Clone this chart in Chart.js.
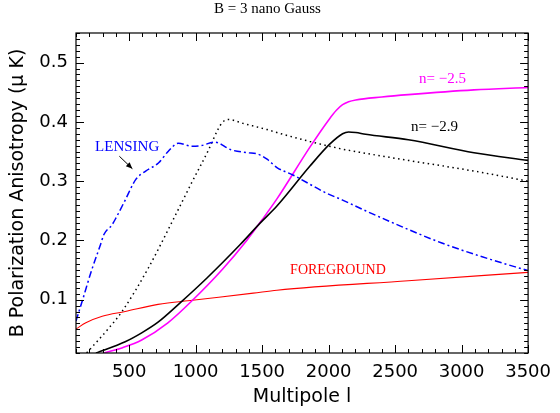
<!DOCTYPE html>
<html>
<head>
<meta charset="utf-8">
<script src="https://cdn.jsdelivr.net/npm/chart.js@4.4.1/dist/chart.umd.min.js"></script>
<style>
  html, body { margin: 0; padding: 0; background: #fff; }
  canvas { display: block; }
</style>
</head>
<body>
<canvas id="chart-bmode" width="560" height="413"></canvas>
<script>
// multipole values (l) and amplitudes (muK)
const L_LENS = [100, 150, 218, 280, 310, 370, 401, 470, 550, 624, 722, 796, 870, 969, 1043, 1142, 1265, 1389, 1463, 1537, 1611, 1735, 1981, 2105, 2278, 2500, 2846, 3216, 3500];
const Y_LENS = [0.064, 0.1, 0.15, 0.19, 0.21, 0.226, 0.238, 0.268, 0.303, 0.317, 0.331, 0.351, 0.364, 0.359, 0.36, 0.366, 0.353, 0.348, 0.346, 0.337, 0.323, 0.31, 0.28, 0.268, 0.25, 0.228, 0.196, 0.168, 0.149];

const L_DOT = [180, 347, 446, 643, 833, 969, 1093, 1167, 1200, 1245, 1364, 1537, 1611, 1858, 2105, 2278, 2599, 3093, 3500];
const Y_DOT = [0.01, 0.052, 0.08, 0.153, 0.236, 0.297, 0.351, 0.387, 0.399, 0.404, 0.397, 0.387, 0.382, 0.367, 0.354, 0.347, 0.335, 0.317, 0.30];

const L_N29 = [250, 470, 594, 717, 885, 1087, 1335, 1488, 1611, 1858, 2006, 2105, 2150, 2204, 2278, 2599, 3093, 3500];
const Y_N29 = [0.01, 0.029, 0.044, 0.062, 0.095, 0.137, 0.193, 0.23, 0.258, 0.325, 0.362, 0.38, 0.383, 0.382, 0.379, 0.37, 0.348, 0.335];

const L_N25 = [310, 450, 594, 791, 976, 1200, 1384, 1500, 1611, 1858, 2006, 2060, 2105, 2150, 2204, 2400, 2599, 3093, 3500];
const Y_N25 = [0.01, 0.019, 0.032, 0.061, 0.099, 0.151, 0.2, 0.235, 0.27, 0.357, 0.405, 0.42, 0.429, 0.434, 0.437, 0.442, 0.446, 0.454, 0.458];

const L_FG = [100, 174, 297, 470, 717, 976, 1433, 1611, 2599, 3500];
const Y_FG = [0.0505, 0.061, 0.072, 0.08, 0.092, 0.099, 0.111, 0.116, 0.132, 0.146];

const X_TICKS = [500, 1000, 1500, 2000, 2500, 3000, 3500];
const Y_TICKS = [0.1, 0.2, 0.3, 0.4, 0.5];

const AXIS_FONT = "'DejaVu Sans', sans-serif";
const SERIF_FONT = "'Liberation Serif', 'Times New Roman', serif";

function zip(xs, ys) {
  return xs.map((x, i) => ({ x, y: ys[i] }));
}

// text annotations in data coordinates
const LABELS = [
  { text: 'n= \u22122.5', x: 2856, y: 0.472, color: '#ff00ff', size: 15 },
  { text: 'n= \u22122.9', x: 2796, y: 0.391, color: '#000000', size: 15 },
  { text: 'LENSING', x: 485, y: 0.358, color: '#0000ff', size: 15 },
  { text: 'FOREGROUND', x: 2070, y: 0.15, color: '#ff0000', size: 14 }
];
const ARROW = { from: [426, 0.342], to: [524, 0.321] };

// box frame with inward major/minor ticks on all four sides
const framePlugin = {
  id: 'frame',
  afterDatasetsDraw(chart) {
    const { ctx, chartArea: a, scales: { x, y } } = chart;
    ctx.save();
    ctx.strokeStyle = '#000';
    ctx.lineWidth = 1.2;
    ctx.strokeRect(a.left, a.top, a.right - a.left, a.bottom - a.top);
    ctx.lineWidth = 1;
    ctx.beginPath();
    for (let v = 100; v <= 3500; v += 100) {
      const px = Math.round(x.getPixelForValue(v)) + 0.5;
      const len = v % 500 === 0 ? 8 : 4;
      ctx.moveTo(px, a.bottom); ctx.lineTo(px, a.bottom - len);
      ctx.moveTo(px, a.top); ctx.lineTo(px, a.top + len);
    }
    for (let i = 1; i <= 55; i++) {
      const v = i / 100;
      const py = Math.round(y.getPixelForValue(v)) + 0.5;
      const len = i % 10 === 0 ? 8 : 4;
      ctx.moveTo(a.left, py); ctx.lineTo(a.left + len, py);
      ctx.moveTo(a.right, py); ctx.lineTo(a.right - len, py);
    }
    ctx.stroke();

    // labels
    ctx.textAlign = 'center';
    ctx.textBaseline = 'middle';
    LABELS.forEach(l => {
      ctx.font = l.size + 'px ' + SERIF_FONT;
      ctx.fillStyle = l.color;
      ctx.fillText(l.text, x.getPixelForValue(l.x), y.getPixelForValue(l.y));
    });

    // arrow pointing at the lensing curve
    const x0 = x.getPixelForValue(ARROW.from[0]), y0 = y.getPixelForValue(ARROW.from[1]);
    const x1 = x.getPixelForValue(ARROW.to[0]), y1 = y.getPixelForValue(ARROW.to[1]);
    const ang = Math.atan2(y1 - y0, x1 - x0);
    ctx.strokeStyle = '#000';
    ctx.fillStyle = '#000';
    ctx.beginPath();
    ctx.moveTo(x0, y0); ctx.lineTo(x1, y1);
    ctx.stroke();
    ctx.beginPath();
    ctx.moveTo(x1, y1);
    ctx.lineTo(x1 - 7 * Math.cos(ang - 0.4), y1 - 7 * Math.sin(ang - 0.4));
    ctx.lineTo(x1 - 7 * Math.cos(ang + 0.4), y1 - 7 * Math.sin(ang + 0.4));
    ctx.closePath();
    ctx.fill();
    ctx.restore();
  }
};

const ctx = document.getElementById('chart-bmode').getContext('2d');
new Chart(ctx, {
  type: 'line',
  data: {
    datasets: [
      {
        label: 'Lensing', data: zip(L_LENS, Y_LENS),
        borderColor: '#0000ff', borderWidth: 1.5, borderDash: [7, 3, 2, 3]
      },
      {
        label: 'Dotted', data: zip(L_DOT, Y_DOT),
        borderColor: '#000000', borderWidth: 1.5, borderDash: [1.5, 3.5]
      },
      {
        label: 'n=-2.9', data: zip(L_N29, Y_N29),
        borderColor: '#000000', borderWidth: 1.6
      },
      {
        label: 'n=-2.5', data: zip(L_N25, Y_N25),
        borderColor: '#ff00ff', borderWidth: 1.6
      },
      {
        label: 'Foreground', data: zip(L_FG, Y_FG),
        borderColor: '#ff0000', borderWidth: 1.1
      }
    ]
  },
  options: {
    responsive: false,
    animation: false,
    devicePixelRatio: 1,
    layout: { padding: { left: 0, right: 25, top: 0, bottom: 0 } },
    elements: {
      point: { radius: 0 },
      line: { cubicInterpolationMode: 'monotone', fill: false }
    },
    plugins: {
      legend: { display: false },
      tooltip: { enabled: false },
      title: {
        display: true, text: 'B = 3 nano Gauss', color: '#000',
        font: { family: SERIF_FONT, size: 15, weight: 'normal' },
        padding: { top: 0, bottom: 15 }
      }
    },
    scales: {
      x: {
        type: 'linear', min: 100, max: 3500,
        afterBuildTicks: s => { s.ticks = X_TICKS.map(v => ({ value: v })); },
        afterFit: s => { s.height = 60; },
        grid: { display: false, drawTicks: false },
        border: { display: false },
        ticks: {
          color: '#000', padding: 9, maxRotation: 0,
          font: { family: AXIS_FONT, size: 18 },
          callback: v => String(v)
        },
        title: {
          display: true, text: 'Multipole l', color: '#000',
          font: { family: AXIS_FONT, size: 19 },
          padding: { top: 0, bottom: 5 }
        }
      },
      y: {
        type: 'linear', min: 0.01, max: 0.55,
        afterBuildTicks: s => { s.ticks = Y_TICKS.map(v => ({ value: v })); },
        afterFit: s => { s.width = 76; },
        grid: { display: false, drawTicks: false },
        border: { display: false },
        ticks: {
          color: '#000', padding: 8,
          font: { family: AXIS_FONT, size: 18 },
          callback: v => v.toFixed(1)
        },
        title: {
          display: true, text: 'B Polarization Anisotropy (\u03bc K)', color: '#000',
          font: { family: AXIS_FONT, size: 19 },
          padding: { top: 7, bottom: 0 }
        }
      }
    }
  },
  plugins: [framePlugin]
});
</script>
</body>
</html>
